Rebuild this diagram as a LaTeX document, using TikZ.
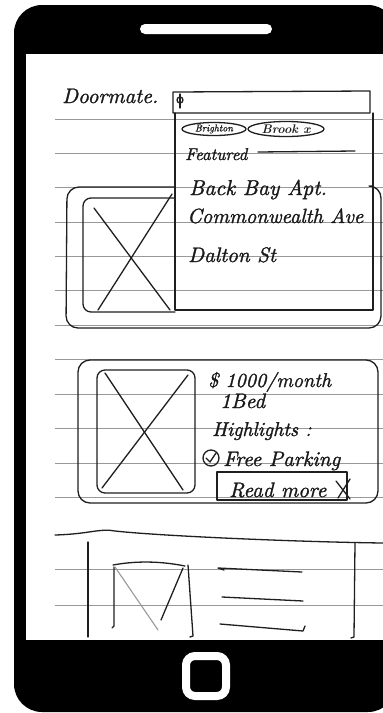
\documentclass[tikz,border=0pt]{standalone}
\usepackage{fontspec}
\newfontfamily\handfont{lmroman10-italic.otf}[FakeBold=1.3]
\newfontfamily\handbold{lmroman10-bolditalic.otf}
\usetikzlibrary{shapes.geometric}
\begin{document}
\begin{tikzpicture}[x=1pt,y=-1pt,
  ink/.style={line width=1.3pt, line cap=round, line join=round, black!88},
  pale/.style={line width=1.1pt, line cap=round, black!40},
  rule/.style={line width=0.8pt, black!40},
  hand/.style={inner sep=0pt, anchor=base west, text=black!90},
  chip/.style={ellipse, draw, ink, inner sep=0pt}]
\useasboundingbox (0,0) rectangle (383,713);

% phone body, screen, speaker slot and home button
\fill[black, rounded corners=28pt] (14,5) rectangle (396,712);
\fill[white] (26,54) rectangle (396,640);
\fill[white, rounded corners=5pt] (140,24) rectangle (272,34);
\draw[white, line width=8pt, rounded corners=9pt] (186,656) rectangle (226,696);

% ruled notebook lines
\foreach \yy in {119,153,187,222,256,290,325,359,394,428,463,497,569,605}
  \draw[rule] (55,\yy) -- (383,\yy);

% header: title and search field
\node[hand, font=\fontsize{21}{21}\selectfont\handfont] (title) at (62,103) {Doormate.};
\draw[ink] (173,92) -- (370,91) -- (370,113) -- (173,113) -- cycle;
\draw[ink] (180,100) circle (3pt);
\draw[ink] (180,94) -- (180,108);

% first listing card, partly covered by the dropdown
\draw[ink, rounded corners=12pt] (175,187) -- (67,187) -- (66,328) -- (381,328) -- (381,186) -- (372,186);
\draw[ink, rounded corners=8pt] (175,198) -- (83,198) -- (83,312) -- (175,312);
\draw[ink] (94,208) -- (170,310);
\draw[ink] (172,194) -- (98,310);

% dropdown with suggestions
\draw[ink] (175,113) -- (175,310) -- (373,310) -- (373,113);
\node[chip, minimum width=64pt, minimum height=13pt, font=\fontsize{10}{10}\selectfont\handfont] (chipA) at (214,129) {Brighton};
\node[chip, minimum width=76pt, minimum height=15pt, font=\fontsize{12.5}{12.5}\selectfont\handbold] (chipB) at (286,129) {Brook x};
\node[hand, font=\fontsize{17}{17}\selectfont\handfont] (feat) at (185,160) {Featured};
\draw[ink] (258,152) -- (355,151);
\node[hand, font=\fontsize{21.5}{21.5}\selectfont\handfont] (opt1) at (189,195) {Back Bay Apt.};
\node[hand, font=\fontsize{20.5}{20.5}\selectfont\handfont] (opt2) at (187,223) {Commonwealth Ave};
\node[hand, font=\fontsize{21}{21}\selectfont\handfont] (opt3) at (188,262) {Dalton St};

% second listing card
\draw[ink, rounded corners=12pt] (78,360) rectangle (378,503);
\draw[ink, rounded corners=8pt] (97,370) rectangle (195,493);
\draw[ink] (105,373) -- (183,490);
\draw[ink] (188,375) -- (102,488);
\node[hand, font=\fontsize{20}{20}\selectfont\handfont] (price) at (208,387) {\$ 1000/month};
\node[hand, font=\fontsize{21}{21}\selectfont\handfont] (beds) at (220,408) {1Bed};
\node[hand, font=\fontsize{20}{20}\selectfont\handfont] (hl) at (212,436) {Highlights :};
\draw[ink] (211,458) circle (8pt);
\draw[ink] (206,458) -- (210,462) -- (216,453);
\node[hand, font=\fontsize{21}{21}\selectfont\handfont] (perk) at (223,466) {Free Parking};
\draw[ink] (217,472) -- (347,472) -- (347,500) -- (217,500) -- cycle;
\node[hand, font=\fontsize{21}{21}\selectfont\handfont] (more) at (229,497) {Read more};
\draw[ink] (336,481) -- (350,499);
\draw[ink] (350,479) -- (338,498);

% third listing card, running off the bottom of the screen
\draw[ink] (55,535) .. controls (90,534) and (100,528) .. (115,531) .. controls (160,536) and (300,542) .. (383,543);
\draw[ink] (88,542) -- (88,637);
\draw[ink] (355,543) -- (354,637) -- (351,638);
\draw[ink] (113,565) .. controls (140,560) and (165,562) .. (185,566);
\draw[ink] (114,567) -- (114,626) -- (112,628);
\draw[ink] (188,565) -- (193,636) -- (190,637);
\draw[pale] (115,567) -- (158,630);
\draw[ink] (183,568) -- (161,620);
\draw[ink] (224,570) -- (218,568) -- (302,572);
\draw[ink] (222,597) -- (303,601);
\draw[ink] (220,624) -- (303,631) -- (305,626);
\end{tikzpicture}
\end{document}
